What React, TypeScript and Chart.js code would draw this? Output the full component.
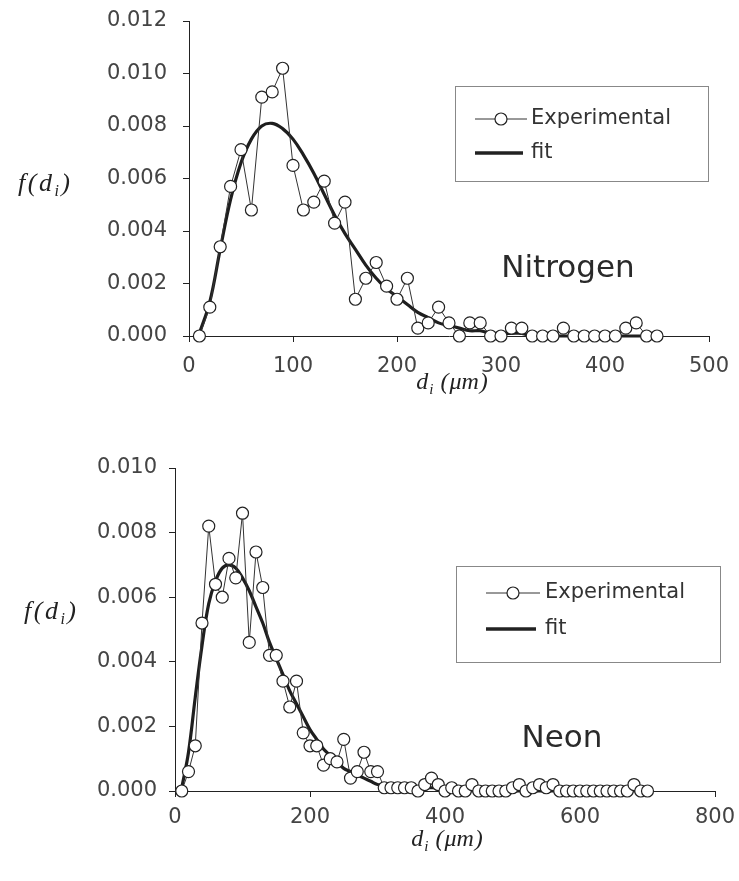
import React, { useEffect, useRef } from "react";
import { Chart, registerables } from "chart.js";

Chart.register(...registerables);

// ---------- data ----------
const nitrogenDiameter = [
  10, 20, 30, 40, 50, 60, 70, 80, 90, 100,
  110, 120, 130, 140, 150, 160, 170, 180, 190, 200,
  210, 220, 230, 240, 250, 260, 270, 280, 290, 300,
  310, 320, 330, 340, 350, 360, 370, 380, 390, 400,
  410, 420, 430, 440, 450,
];
const nitrogenExperimental = [
  0.0, 0.0011, 0.0034, 0.0057, 0.0071, 0.0048, 0.0091, 0.0093, 0.0102, 0.0065,
  0.0048, 0.0051, 0.0059, 0.0043, 0.0051, 0.0014, 0.0022, 0.0028, 0.0019, 0.0014,
  0.0022, 0.0003, 0.0005, 0.0011, 0.0005, 0.0, 0.0005, 0.0005, 0.0, 0.0,
  0.0003, 0.0003, 0.0, 0.0, 0.0, 0.0003, 0.0, 0.0, 0.0, 0.0,
  0.0, 0.0003, 0.0005, 0.0, 0.0,
];
const nitrogenFit = [
  0.0001, 0.0013, 0.0033, 0.0052, 0.0066, 0.0075, 0.008, 0.0081, 0.0079, 0.0075,
  0.0069, 0.0062, 0.0054, 0.0046, 0.0039, 0.0033, 0.0027, 0.0022, 0.0018, 0.0015,
  0.0012, 0.0009, 0.0007, 0.0005, 0.0004, 0.0003, 0.0002, 0.0002, 0.0001, 0.0001,
  0.0001, 0.0001, 0.0, 0.0, 0.0, 0.0, 0.0, 0.0, 0.0, 0.0,
  0.0, 0.0, 0.0, 0.0, 0.0,
];

const neonDiameter = [
  10, 20, 30, 40, 50, 60, 70, 80, 90, 100,
  110, 120, 130, 140, 150, 160, 170, 180, 190, 200,
  210, 220, 230, 240, 250, 260, 270, 280, 290, 300,
  310, 320, 330, 340, 350, 360, 370, 380, 390, 400,
  410, 420, 430, 440, 450, 460, 470, 480, 490, 500,
  510, 520, 530, 540, 550, 560, 570, 580, 590, 600,
  610, 620, 630, 640, 650, 660, 670, 680, 690, 700,
];
const neonExperimental = [
  0.0, 0.0006, 0.0014, 0.0052, 0.0082, 0.0064, 0.006, 0.0072, 0.0066, 0.0086,
  0.0046, 0.0074, 0.0063, 0.0042, 0.0042, 0.0034, 0.0026, 0.0034, 0.0018, 0.0014,
  0.0014, 0.0008, 0.001, 0.0009, 0.0016, 0.0004, 0.0006, 0.0012, 0.0006, 0.0006,
  0.0001, 0.0001, 0.0001, 0.0001, 0.0001, 0.0, 0.0002, 0.0004, 0.0002, 0.0,
  0.0001, 0.0, 0.0, 0.0002, 0.0, 0.0, 0.0, 0.0, 0.0, 0.0001,
  0.0002, 0.0, 0.0001, 0.0002, 0.0001, 0.0002, 0.0, 0.0, 0.0, 0.0,
  0.0, 0.0, 0.0, 0.0, 0.0, 0.0, 0.0, 0.0002, 0.0, 0.0,
];
const neonFit = [
  0.0001, 0.0012, 0.0029, 0.0045, 0.0058, 0.0065, 0.0069, 0.007, 0.0069, 0.0066,
  0.0062, 0.0057, 0.0052, 0.0046, 0.0041, 0.0036, 0.0031, 0.0027, 0.0023, 0.0019,
  0.0016, 0.0013, 0.0011, 0.0009, 0.0007, 0.0006, 0.0005, 0.0004, 0.0003, 0.0002,
  0.0002, 0.0002, 0.0001, 0.0001, 0.0001, 0.0001, 0.0001, 0.0001, 0.0001, 0.0001,
  0.0, 0.0, 0.0, 0.0, 0.0, 0.0, 0.0, 0.0, 0.0, 0.0,
  0.0, 0.0, 0.0, 0.0, 0.0, 0.0, 0.0, 0.0, 0.0, 0.0,
  0.0, 0.0, 0.0, 0.0, 0.0, 0.0, 0.0, 0.0, 0.0, 0.0,
];

const nitrogenXTicks = [0, 100, 200, 300, 400, 500];
const nitrogenYTicks = [0, 0.002, 0.004, 0.006, 0.008, 0.01, 0.012];
const neonXTicks = [0, 200, 400, 600, 800];
const neonYTicks = [0, 0.002, 0.004, 0.006, 0.008, 0.01];

const seriesLabels = ["Experimental", "fit"];
const gasNames = ["Nitrogen", "Neon"];
const yTitle = [{ t: "f" }, { t: "(" }, { t: "d" }, { t: "i", sub: true }, { t: ")" }];
const xTitle = [{ t: "d" }, { t: "i", sub: true }, { t: " (" }, { t: "\u03bcm" }, { t: ")" }];

// ---------- helpers ----------
type Part = { t: string; sub?: boolean };
const SERIF = '"Liberation Serif", "DejaVu Serif", serif';
const SANS = '"DejaVu Sans", Verdana, sans-serif';

function drawRich(
  ctx: CanvasRenderingContext2D,
  parts: Part[],
  x: number,
  y: number,
  size: number,
  spacing: number,
  align: "left" | "center"
) {
  const main = `italic ${size}px ${SERIF}`;
  const sub = `italic ${Math.round(size * 0.62)}px ${SERIF}`;
  const widths = parts.map((p) => {
    ctx.font = p.sub ? sub : main;
    return ctx.measureText(p.t).width;
  });
  const total = widths.reduce((a, b) => a + b, 0) + spacing * (parts.length - 1);
  let cx = align === "center" ? x - total / 2 : x;
  ctx.textAlign = "left";
  ctx.textBaseline = "alphabetic";
  parts.forEach((p, i) => {
    ctx.font = p.sub ? sub : main;
    ctx.fillText(p.t, cx, p.sub ? y + size * 0.2 : y);
    cx += widths[i] + spacing;
  });
}

const decorPlugin = {
  id: "decor",
  afterDraw(chart: any, _args: any, o: any) {
    const ctx: CanvasRenderingContext2D = chart.ctx;
    ctx.save();
    ctx.fillStyle = "#222";
    // axis titles
    drawRich(ctx, yTitle, o.yTitleX, o.yTitleY, 26, 2.5, "left");
    drawRich(ctx, xTitle, o.xTitleX, o.xTitleY, 24, 1, "center");
    // gas name
    ctx.font = `31px ${SANS}`;
    ctx.textAlign = "center";
    ctx.textBaseline = "alphabetic";
    ctx.fillStyle = "#2a2a2a";
    ctx.fillText(o.name, o.nameX, o.nameY);
    // legend box
    const lg = o.legend;
    ctx.strokeStyle = "#888";
    ctx.lineWidth = 1;
    ctx.strokeRect(lg.x + 0.5, lg.y + 0.5, lg.w, lg.h);
    const ds = chart.data.datasets;
    // experimental row
    ctx.strokeStyle = "#333";
    ctx.lineWidth = 1;
    ctx.beginPath();
    ctx.moveTo(lg.lineX0, lg.row1);
    ctx.lineTo(lg.lineX1, lg.row1);
    ctx.stroke();
    ctx.beginPath();
    ctx.arc((lg.lineX0 + lg.lineX1) / 2, lg.row1, 6, 0, Math.PI * 2);
    ctx.fillStyle = "#fff";
    ctx.fill();
    ctx.strokeStyle = "#222";
    ctx.lineWidth = 1.2;
    ctx.stroke();
    // fit row
    ctx.strokeStyle = "#222";
    ctx.lineWidth = 3.5;
    ctx.beginPath();
    ctx.moveTo(lg.lineX0, lg.row2);
    ctx.lineTo(lg.lineX1 - 4, lg.row2);
    ctx.stroke();
    ctx.fillStyle = "#333";
    ctx.font = `21px ${SANS}`;
    ctx.textAlign = "left";
    ctx.textBaseline = "middle";
    ctx.fillText(ds[0].label, lg.textX, lg.row1);
    ctx.fillText(ds[1].label, lg.textX, lg.row2);
    ctx.restore();
  },
};

type PanelProps = {
  xs: number[];
  exp: number[];
  fit: number[];
  xTicks: number[];
  yTicks: number[];
  width: number;
  height: number;
  area: { left: number; right: number; top: number; bottom: number };
  xPad: number;
  yPad: number;
  decor: any;
};

function Panel(p: PanelProps) {
  const ref = useRef<HTMLCanvasElement | null>(null);
  useEffect(() => {
    if (!ref.current) return;
    const tickFont = { family: "DejaVu Sans", size: 21 };
    const chart = new Chart(ref.current, {
      type: "line",
      data: {
        datasets: [
          {
            label: seriesLabels[0],
            data: p.xs.map((x, i) => ({ x, y: p.exp[i] })),
            borderColor: "#333",
            borderWidth: 1,
            pointRadius: 6,
            pointBackgroundColor: "#fff",
            pointBorderColor: "#222",
            pointBorderWidth: 1.2,
            clip: false as any,
          },
          {
            label: seriesLabels[1],
            data: p.xs.map((x, i) => ({ x, y: p.fit[i] })),
            borderColor: "#1e1e1e",
            borderWidth: 3.2,
            pointRadius: 0,
            tension: 0.4,
            clip: false as any,
          },
        ],
      },
      options: {
        animation: false,
        responsive: false,
        layout: {
          padding: {
            left: 0,
            top: p.area.top,
            right: p.width - p.area.right,
            bottom: 0,
          },
        },
        plugins: {
          legend: { display: false },
          tooltip: { enabled: false },
          decor: p.decor,
        } as any,
        scales: {
          x: {
            type: "linear",
            min: p.xTicks[0],
            max: p.xTicks[p.xTicks.length - 1],
            afterBuildTicks: (s: any) => {
              s.ticks = p.xTicks.map((v) => ({ value: v }));
            },
            afterFit: (s: any) => {
              s.height = p.height - p.area.bottom;
              s.paddingLeft = 0;
              s.paddingRight = 0;
            },
            grid: { drawOnChartArea: false, drawTicks: true, tickLength: 6, color: "#222" },
            border: { display: true, color: "#222", width: 1 },
            ticks: { font: tickFont, color: "#444", padding: p.xPad, maxRotation: 0, autoSkip: false },
          },
          y: {
            type: "linear",
            min: p.yTicks[0],
            max: p.yTicks[p.yTicks.length - 1],
            afterBuildTicks: (s: any) => {
              s.ticks = p.yTicks.map((v) => ({ value: v }));
            },
            afterFit: (s: any) => {
              s.width = p.area.left;
              s.paddingTop = 0;
              s.paddingBottom = 0;
            },
            grid: { drawOnChartArea: false, drawTicks: true, tickLength: 6, color: "#222" },
            border: { display: true, color: "#222", width: 1 },
            ticks: {
              font: tickFont,
              color: "#444",
              padding: p.yPad,
              autoSkip: false,
              callback: (v: any) => Number(v).toFixed(3),
            },
          },
        },
      },
      plugins: [decorPlugin as any],
    } as any);
    return () => chart.destroy();
  }, []);
  return (
    <canvas
      ref={ref}
      width={p.width}
      height={p.height}
      style={{ display: "block", width: p.width, height: p.height }}
    />
  );
}

export default function App() {
  return (
    <div style={{ position: "absolute", left: 0, top: 0, width: 739, height: 881, background: "#fff" }}>
      <Panel
        xs={nitrogenDiameter}
        exp={nitrogenExperimental}
        fit={nitrogenFit}
        xTicks={nitrogenXTicks}
        yTicks={nitrogenYTicks}
        width={739}
        height={420}
        area={{ left: 189, right: 709, top: 21, bottom: 336 }}
        xPad={12}
        yPad={16}
        decor={{
          name: gasNames[0],
          nameX: 568,
          nameY: 277,
          yTitleX: 18,
          yTitleY: 191,
          xTitleX: 452,
          xTitleY: 389,
          legend: { x: 455, y: 86, w: 253, h: 95, row1: 119, row2: 153, lineX0: 475, lineX1: 527, textX: 531 },
        }}
      />
      <Panel
        xs={neonDiameter}
        exp={neonExperimental}
        fit={neonFit}
        xTicks={neonXTicks}
        yTicks={neonYTicks}
        width={739}
        height={461}
        area={{ left: 175, right: 715, top: 48, bottom: 371 }}
        xPad={8}
        yPad={12}
        decor={{
          name: gasNames[1],
          nameX: 562,
          nameY: 327,
          yTitleX: 24,
          yTitleY: 199,
          xTitleX: 447,
          xTitleY: 426,
          legend: { x: 456, y: 146, w: 264, h: 96, row1: 173, row2: 209, lineX0: 486, lineX1: 540, textX: 545 },
        }}
      />
    </div>
  );
}
